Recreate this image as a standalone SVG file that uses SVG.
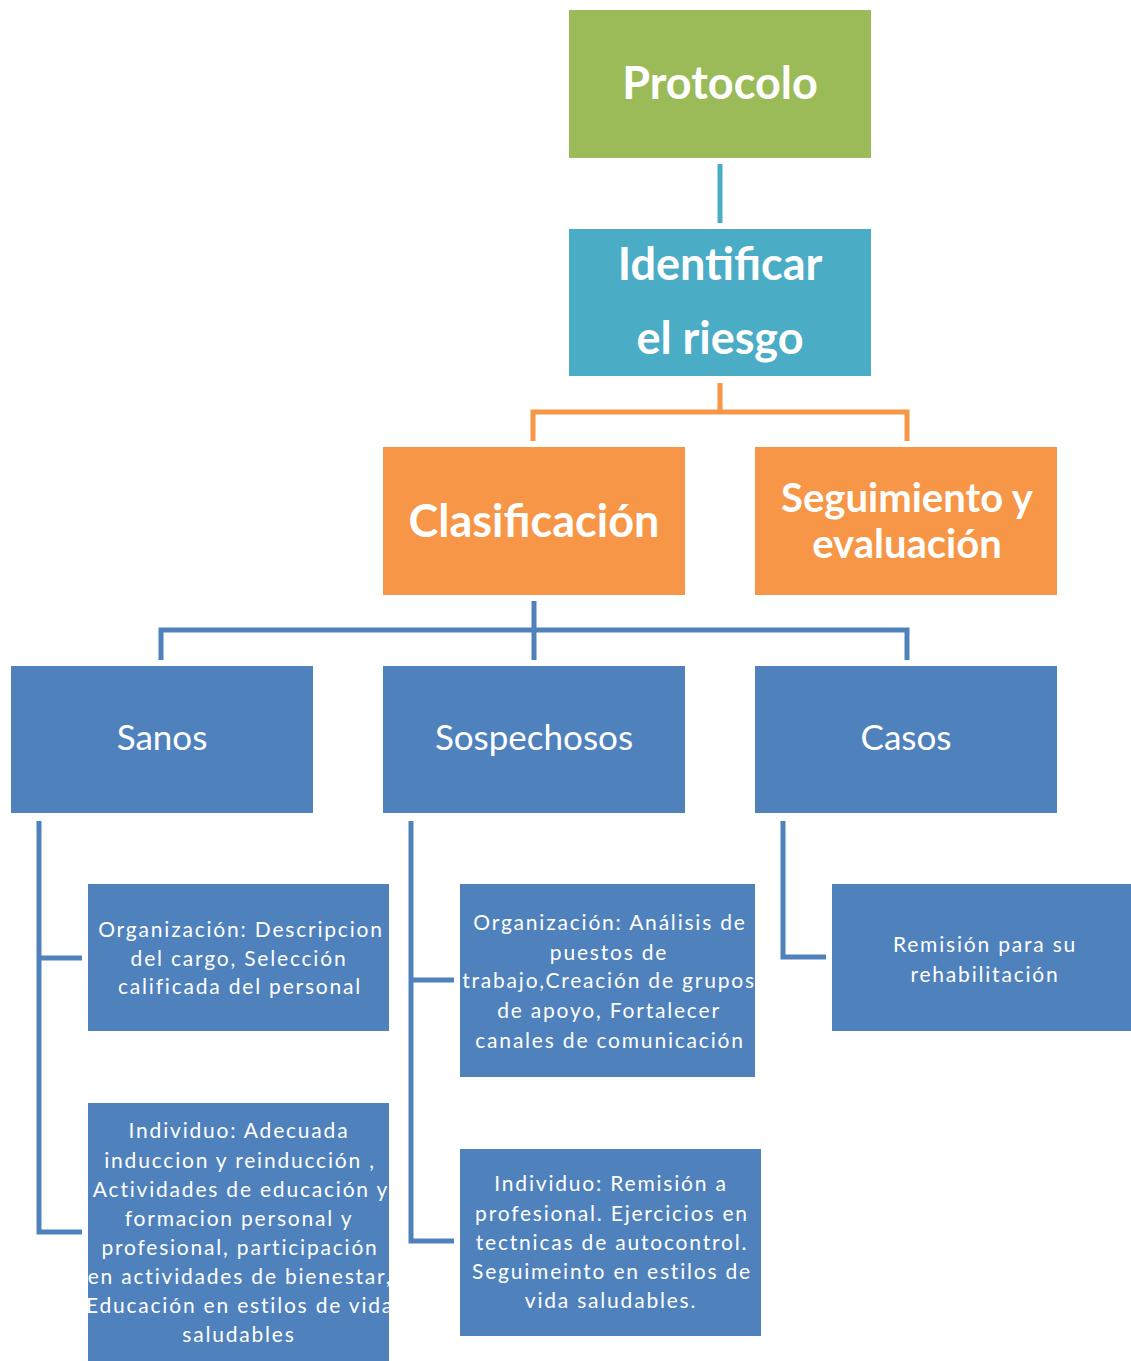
<svg xmlns="http://www.w3.org/2000/svg" width="1131" height="1361" viewBox="0 0 1131 1361">
<style>
.title{font-family:Lato,"Open Sans",sans-serif;font-weight:bold;fill:#fff;text-anchor:middle}
.mid{font-family:Lato,"Open Sans",sans-serif;fill:#fff;text-anchor:middle;font-size:35px}
.sm{font-family:Lato,"Open Sans",sans-serif;fill:#fff;text-anchor:middle;font-size:21px;letter-spacing:1.8px}
.blue{fill:#4F81BD}
.conn{fill:none;stroke-width:5;stroke-linejoin:miter}
</style>
<rect width="1131" height="1361" fill="#fff"/>
<g id="connectors">
<path class="conn" stroke="#4BACC6" d="M720 164V223"/>
<path class="conn" stroke="#F79646" d="M720 383V412M533 441V412H907V441"/>
<path class="conn" stroke="#4F81BD" d="M534 601V660M161 660V630H907V660"/>
<path class="conn" stroke="#4F81BD" d="M39 821V1232H82M39 958H82"/>
<path class="conn" stroke="#4F81BD" d="M411 821V1241H454M411 980H454"/>
<path class="conn" stroke="#4F81BD" d="M783 821V957H826"/>
</g>
<g id="protocolo">
<rect x="569" y="10" width="302" height="148" fill="#9BBB59"/>
<text class="title" x="720" y="99" font-size="45">Protocolo</text>
</g>
<g id="identificar">
<rect x="569" y="229" width="302" height="147" fill="#4BACC6"/>
<text class="title" x="720" y="280" font-size="45">Identificar</text>
<text class="title" x="720" y="354" font-size="45">el riesgo</text>
</g>
<g id="clasificacion">
<rect x="383" y="447" width="302" height="148" fill="#F79646"/>
<text class="title" x="534" y="537" font-size="45">Clasificación</text>
</g>
<g id="seguimiento">
<rect x="755" y="447" width="302" height="148" fill="#F79646"/>
<text class="title" x="907" y="512" font-size="40">Seguimiento y</text>
<text class="title" x="907" y="558" font-size="40">evaluación</text>
</g>
<g id="sanos">
<rect class="blue" x="11" y="666" width="302" height="147"/>
<text class="mid" x="162" y="750">Sanos</text>
</g>
<g id="sospechosos">
<rect class="blue" x="383" y="666" width="302" height="147"/>
<text class="mid" x="534" y="750">Sospechosos</text>
</g>
<g id="casos">
<rect class="blue" x="755" y="666" width="302" height="147"/>
<text class="mid" x="906" y="750">Casos</text>
</g>
<g id="sanos-org">
<rect class="blue" x="88" y="884" width="301" height="147"/>
<text class="sm" x="241" y="937">Organización: Descripcion</text>
<text class="sm" x="239" y="966">del cargo, Selección</text>
<text class="sm" x="240" y="994">calificada del personal</text>
</g>
<g id="sanos-ind">
<rect class="blue" x="88" y="1103" width="301" height="258"/>
<text class="sm" x="239" y="1138">Individuo: Adecuada</text>
<text class="sm" x="240" y="1168">induccion y reinducción ,</text>
<text class="sm" x="241" y="1197">Actividades de educación y</text>
<text class="sm" x="239" y="1226">formacion personal y</text>
<text class="sm" x="240" y="1255">profesional, participación</text>
<text class="sm" x="240" y="1284">en actividades de bienestar,</text>
<text class="sm" x="240" y="1313">Educación en estilos de vida</text>
<text class="sm" x="239" y="1342">saludables</text>
</g>
<g id="sosp-org">
<rect class="blue" x="460" y="884" width="295" height="193"/>
<text class="sm" x="610" y="930">Organización: Análisis de</text>
<text class="sm" x="609" y="960">puestos de</text>
<text class="sm" x="609" y="988">trabajo,Creación de grupos</text>
<text class="sm" x="609" y="1018">de apoyo, Fortalecer</text>
<text class="sm" x="610" y="1048">canales de comunicación</text>
</g>
<g id="sosp-ind">
<rect class="blue" x="460" y="1149" width="301" height="187"/>
<text class="sm" x="611" y="1191">Individuo: Remisión a</text>
<text class="sm" x="612" y="1221">profesional. Ejercicios en</text>
<text class="sm" x="612" y="1250">tectnicas de autocontrol.</text>
<text class="sm" x="612" y="1279">Seguimeinto en estilos de</text>
<text class="sm" x="611" y="1308">vida saludables.</text>
</g>
<g id="casos-rem">
<rect class="blue" x="832" y="884" width="299" height="147"/>
<text class="sm" x="985" y="952">Remisión para su</text>
<text class="sm" x="985" y="982">rehabilitación</text>
</g>
</svg>
